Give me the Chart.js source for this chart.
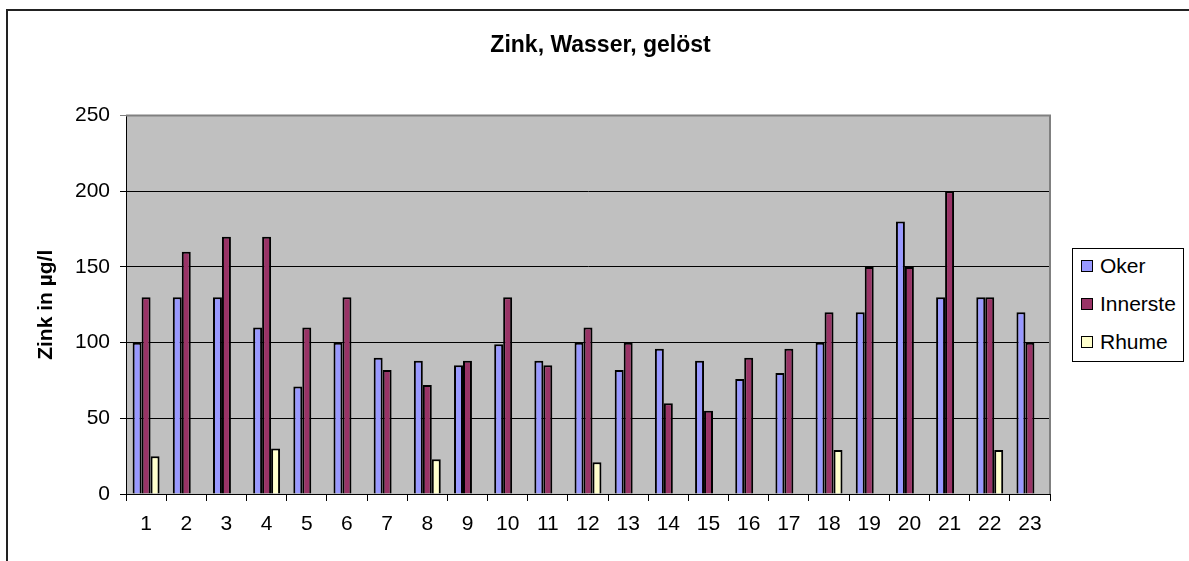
<!DOCTYPE html>
<html>
<head>
<meta charset="utf-8">
<script src="https://cdn.jsdelivr.net/npm/chart.js@4/dist/chart.umd.min.js"></script>
<style>
  body { margin: 0; background: #fff; font-family: "Liberation Sans", Arial, sans-serif; }
  #wrap { position: relative; width: 1189px; height: 561px; overflow: hidden; }
  #frame { position: absolute; left: 6px; top: 9px; width: 1300px; height: 700px; border: 2px solid #222; }
  #chart { position: absolute; left: 0; top: 0; }
  #legend { position: absolute; left: 1072px; top: 248px; width: 112px; height: 114px;
            border: 1px solid #000; background: #fff; box-sizing: border-box; padding-top: 4px; }
  .item { height: 38px; line-height: 26px; font-size: 21px; color: #000; white-space: nowrap; }
  .sw { display: inline-block; width: 10px; height: 10px; border: 1px solid #000;
        margin: 0 7px 0 8px; vertical-align: 1px; }
</style>
</head>
<body>
<div id="wrap">
  <div id="frame"></div>
  <canvas id="chart" width="1189" height="561"></canvas>
  <div id="legend"></div>
</div>
<script>
const categories = ['1','2','3','4','5','6','7','8','9','10','11','12','13','14','15','16','17','18','19','20','21','22','23'];
const oker      = [100, 130, 130, 110, 71, 100, 90, 88, 85, 99, 88, 100, 82, 96, 88, 76, 80, 100, 120, 180, 130, 130, 120];
const innerste  = [130, 160, 170, 170, 110, 130, 82, 72, 88, 130, 85, 110, 100, 60, 55, 90, 96, 120, 150, 150, 200, 130, 100];
const rhume     = [25, null, null, 30, null, null, null, 23, null, null, null, 21, null, null, null, null, null, 29, null, null, null, 29, null];
const yTicks    = [0, 50, 100, 150, 200, 250];

const plotBg = {
    id: 'plotBg',
    beforeDraw(chart) {
        const a = chart.chartArea, ctx = chart.ctx;
        ctx.save();
        ctx.fillStyle = '#c0c0c0';
        ctx.fillRect(a.left, a.top, a.right - a.left, a.bottom - a.top);
        ctx.restore();
    },
    afterDraw(chart) {
        const a = chart.chartArea, ctx = chart.ctx;
        ctx.save();
        ctx.strokeStyle = '#808080';
        ctx.lineWidth = 2;
        ctx.beginPath();
        ctx.moveTo(a.left, a.top);
        ctx.lineTo(a.right, a.top);
        ctx.lineTo(a.right, a.bottom);
        ctx.stroke();
        ctx.restore();
    }
};

const datasets = [
    { label: 'Oker', data: oker, backgroundColor: '#9999ff' },
    { label: 'Innerste', data: innerste, backgroundColor: '#993366' },
    { label: 'Rhume', data: rhume, backgroundColor: '#ffffcc' }
].map(d => Object.assign(d, { borderColor: '#000', borderWidth: 2, categoryPercentage: 0.67, barPercentage: 1 }));

const tickFont = { family: 'Liberation Sans', size: 21 };

const chart = new Chart(document.getElementById('chart'), {
    type: 'bar',
    data: { labels: categories, datasets: datasets },
    plugins: [plotBg],
    options: {
        responsive: false,
        animation: false,
        layout: { padding: { left: 12, right: 0, top: 0, bottom: 0 } },
        plugins: {
            legend: { display: false },
            tooltip: { enabled: false },
            title: {
                display: true,
                text: 'Zink, Wasser, gelöst',
                color: '#000',
                font: { family: 'Liberation Sans', size: 23, weight: 'bold' },
                padding: { top: 32, bottom: 56 }
            }
        },
        scales: {
            x: {
                grid: { offset: true, drawOnChartArea: false, color: '#000', tickLength: 7 },
                border: { color: '#000', width: 1 },
                ticks: { color: '#000', padding: 11, font: tickFont },
                afterFit(scale) { scale.height = 67; }
            },
            y: {
                min: 0,
                max: 250,
                afterBuildTicks(scale) { scale.ticks = yTicks.map(v => ({ value: v })); },
                grid: {
                    color: (c) => (c.tick && c.tick.value === 250) ? '#808080' : '#000',
                    tickLength: 6
                },
                border: { color: '#000', width: 1 },
                ticks: { color: '#000', padding: 10, font: tickFont },
                title: {
                    display: true,
                    text: 'Zink in µg/l',
                    color: '#000',
                    font: { family: 'Liberation Sans', size: 21, weight: 'bold' },
                    padding: { top: 22, bottom: 0 }
                },
                afterFit(scale) { scale.width = 114; }
            },
            // empty right-hand axis that keeps room for the legend
            yRight: {
                position: 'right',
                display: true,
                grid: { display: false },
                border: { display: false },
                ticks: { display: false },
                afterFit(scale) { scale.width = 139; }
            }
        }
    }
});

// legend as html, built from the datasets
const legend = document.getElementById('legend');
chart.data.datasets.forEach(ds => {
    const row = document.createElement('div');
    row.className = 'item';
    row.innerHTML = '<span class="sw" style="background:' + ds.backgroundColor + '"></span>' + ds.label;
    legend.appendChild(row);
});
</script>
</body>
</html>
